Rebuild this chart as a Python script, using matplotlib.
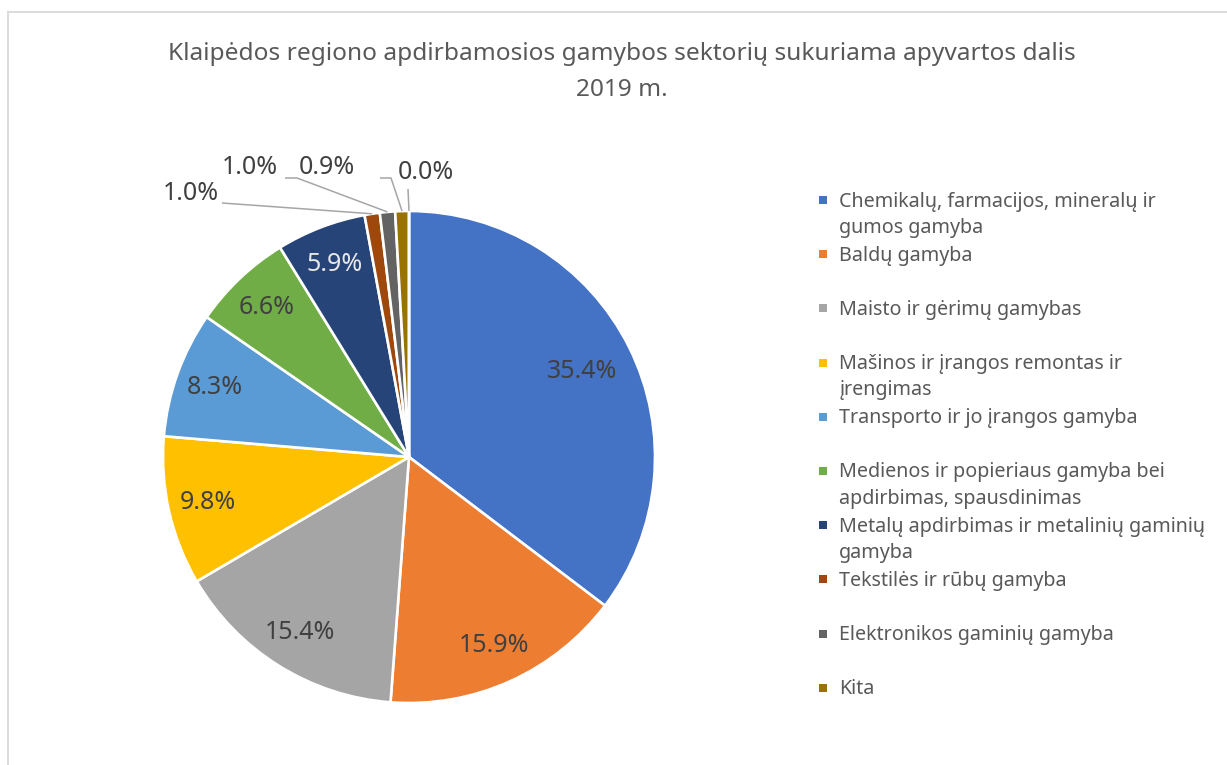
import textwrap
import matplotlib
matplotlib.use("Agg")
import matplotlib.pyplot as plt
from matplotlib.lines import Line2D
from matplotlib.patches import Rectangle
import numpy as np

plt.rcParams['font.family'] = ['Noto Sans', 'DejaVu Sans']

title = "Klaipėdos regiono apdirbamosios gamybos sektorių sukuriama apyvartos dalis\n2019 m."
categories = [
    "Chemikalų, farmacijos, mineralų ir gumos gamyba",
    "Baldų gamyba",
    "Maisto ir gėrimų gamybas",
    "Mašinos ir įrangos remontas ir įrengimas",
    "Transporto ir jo įrangos gamyba",
    "Medienos ir popieriaus gamyba bei apdirbimas, spausdinimas",
    "Metalų apdirbimas ir metalinių gaminių gamyba",
    "Tekstilės ir rūbų gamyba",
    "Elektronikos gaminių gamyba",
    "Kita",
]
# 11th value is a zero-share slice labelled 0.0% (not shown in legend)
values = [35.4, 15.9, 15.4, 9.8, 8.3, 6.6, 5.9, 1.0, 1.0, 0.9, 0.0]
colors = ['#4472C4', '#ED7D31', '#A5A5A5', '#FFC000', '#5B9BD5', '#70AD47',
          '#264478', '#9E480E', '#636363', '#997300', '#43682B']

W, H = 1227, 765
fig = plt.figure(figsize=(W / 100, H / 100), dpi=100)
fig.patch.set_facecolor('white')

def fx(px):
    return px / W

def fy(py):
    return 1 - py / H

# chart border (top and left visible)
fig.add_artist(Line2D([fx(7.5), fx(W)], [fy(11.5), fy(11.5)], color='#D9D9D9', lw=1.3))
fig.add_artist(Line2D([fx(7.5), fx(7.5)], [fy(11.5), fy(H)], color='#D9D9D9', lw=1.3))

# pie axes: center (409,457) px, radius 246 px
cx, cy, R = 409, 457, 246
half = 300
ax = fig.add_axes([fx(cx - half), fy(cy + half), 2 * half / W, 2 * half / H])
wedges, _ = ax.pie(values, colors=colors, startangle=90, counterclock=False,
                   wedgeprops=dict(edgecolor='white', linewidth=1.9))
lim = half / R
ax.set_xlim(-lim, lim)
ax.set_ylim(-lim, lim)
ax.set_axis_off()

def to_data(px, py):
    return (px - cx) / R, (cy - py) / R

label_fs = 18
# inside labels
for i in range(7):
    w = wedges[i]
    th = np.deg2rad((w.theta1 + w.theta2) / 2)
    r = 0.785 if i == 0 else 0.84
    col = '#E8E8E8' if i == 6 else '#404040'
    ax.text(r * np.cos(th), r * np.sin(th), f"{values[i]:.1f}%", ha='center', va='center',
            fontsize=label_fs, color=col)

# outside labels with leader lines
outside = [
    # index, text center px, leader start px, elbow px
    (7, (191, 193), (222, 203), (222, 203)),
    (8, (250, 167), (285, 178), (297, 178)),
    (9, (327, 167), (380, 178), (391, 178)),
    (10, (426, 172), (408, 189), (408, 189)),
]
for i, tpos, start, elbow in outside:
    w = wedges[i]
    th = np.deg2rad((w.theta1 + w.theta2) / 2)
    ex, ey = np.cos(th), np.sin(th)
    tx, ty = to_data(*tpos)
    ax.text(tx, ty, f"{values[i]:.1f}%", ha='center', va='center', fontsize=label_fs,
            color='#404040')
    sx, sy = to_data(*start)
    bx, by = to_data(*elbow)
    ax.plot([sx, bx, ex], [sy, by, ey], color='#A6A6A6', lw=1.1, solid_capstyle='butt',
            clip_on=False)

# title
fig.text(fx(622), fy(72), title, ha='center', va='center', fontsize=17.6, color='#595959',
         linespacing=1.64)

# legend
leg_fs = 14.2
y0 = 200
step = 54.2
for i, cat in enumerate(categories):
    yc = y0 + step * i
    fig.add_artist(Rectangle((fx(819), fy(yc + 4)), 8 / W, 8 / H, facecolor=colors[i],
                             edgecolor='none', transform=fig.transFigure))
    txt = textwrap.fill(cat, width=38)
    fig.text(fx(839), fy(yc - 8.5), txt, ha='left', va='top', fontsize=leg_fs,
             color='#595959', linespacing=1.42)

fig.savefig('out.png', dpi=100, facecolor='white')
